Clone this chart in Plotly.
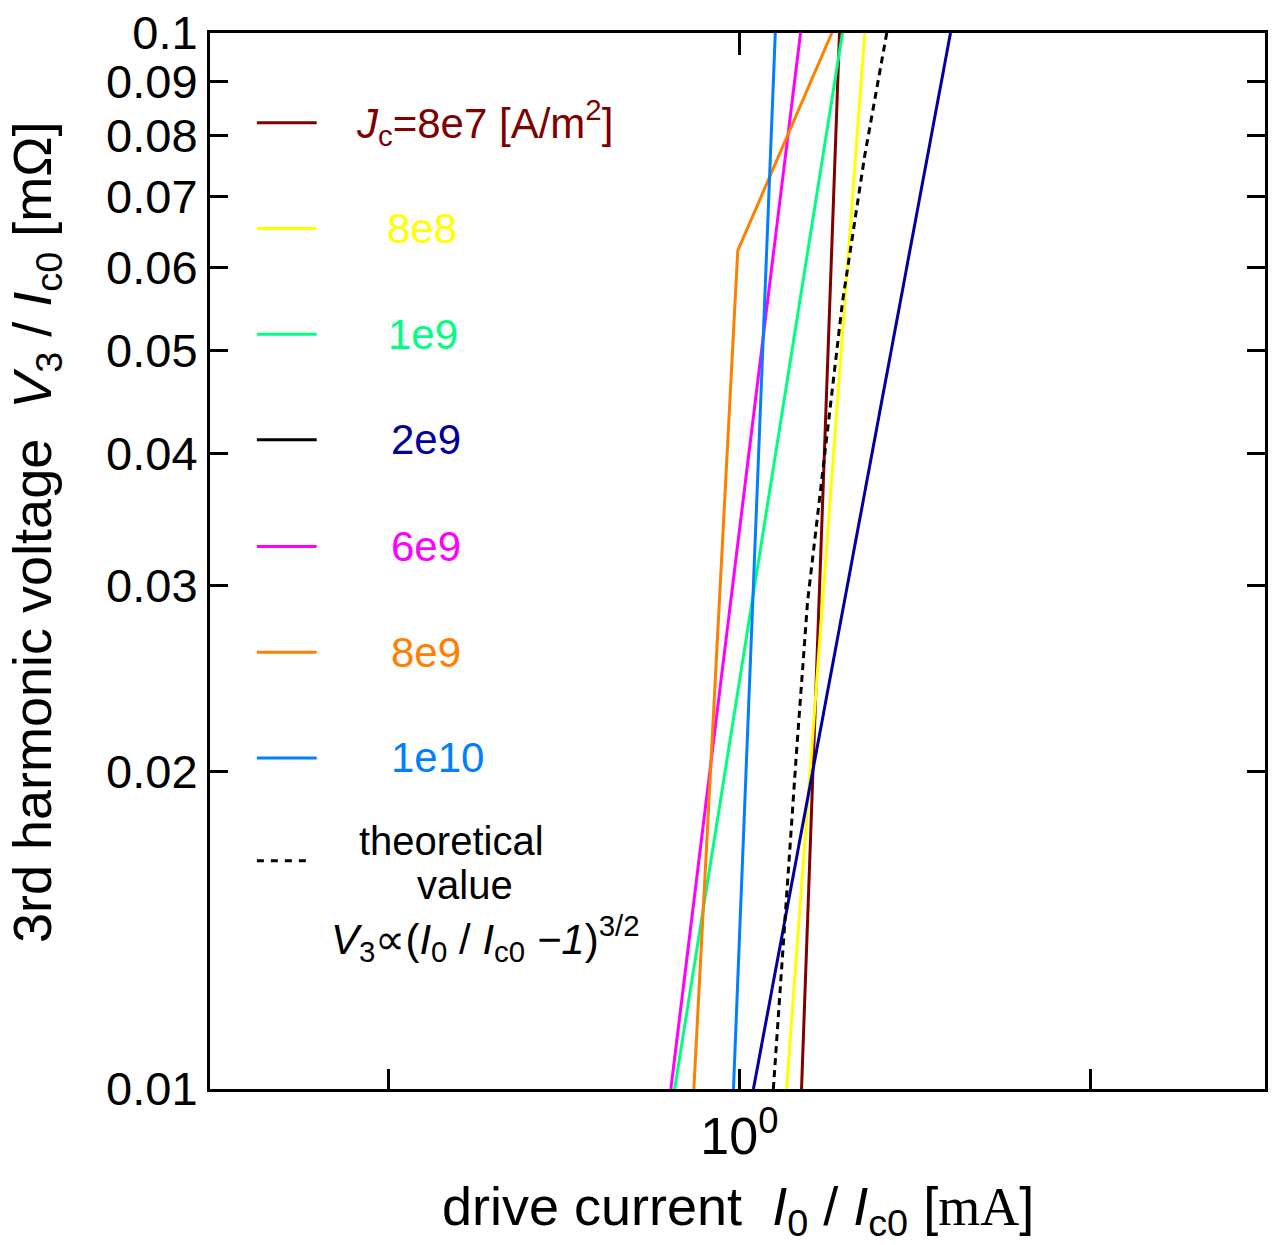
import plotly.graph_objects as go

# ---- data -------------------------------------------------------------
# drive current I0/Ic0 at the lower (0.01) and upper (0.1) end of each curve
v_ends = [0.01, 0.1]
jc_labels = ["8e7", "8e8", "1e9", "2e9", "6e9", "8e9", "1e10"]

i_8e7 = [1.1305, 1.2186]
i_8e8 = [1.0976, 1.2808]
i_1e9 = [0.8799, 1.2257]
i_2e9 = [1.0280, 1.5173]
i_6e9 = [0.8733, 1.1283]
i_8e9 = [0.9139, 0.9967, 1.2003]
v_8e9 = [0.01, 0.06221, 0.1]
i_1e10 = [0.9883, 1.0734]

# theoretical curve V3 ~ (I0/Ic0 - 1)^(3/2)
i_theory = [1.0693, 1.0963, 1.1195, 1.1441, 1.1851, 1.2257, 1.2808, 1.3378]
v_theory = [0.01, 0.01509, 0.02089, 0.02895, 0.04012, 0.05559, 0.07653, 0.1]

y_tickvals = [0.01, 0.02, 0.03, 0.04, 0.05, 0.06, 0.07, 0.08, 0.09, 0.1]
y_ticktext = ["0.01", "0.02", "0.03", "0.04", "0.05", "0.06", "0.07", "0.08", "0.09", "0.1"]
x_tickvals = [0.5, 1, 2]
x_ticktext = ["", "10<sup>0</sup>", ""]

colors = {
    "8e7": "#800000",
    "8e8": "#ffff00",
    "1e9": "#00ff80",
    "2e9": "#0000a0",
    "6e9": "#ff00ff",
    "8e9": "#ff8000",
    "1e10": "#0080ff",
}
legend_line_colors = {**colors, "2e9": "#000000"}

series = [
    ("8e7", i_8e7, v_ends),
    ("8e8", i_8e8, v_ends),
    ("1e9", i_1e9, v_ends),
    ("2e9", i_2e9, v_ends),
    ("6e9", i_6e9, v_ends),
    ("8e9", i_8e9, v_8e9),
    ("1e10", i_1e10, v_ends),
]

FONT = "Liberation Sans, Arial, sans-serif"
X_RANGE = [-0.4542, 0.4509]

fig = go.Figure()
for name, xs, ys in series:
    fig.add_trace(go.Scatter(x=xs, y=ys, mode="lines", name=name,
                             line=dict(color=colors[name], width=3),
                             showlegend=False))
fig.add_trace(go.Scatter(x=i_theory, y=v_theory, mode="lines", name="theory",
                         line=dict(color="black", width=3, dash="7px,5px"),
                         showlegend=False))
# invisible carrier for the top axis (only the 10^0 tick is marked there)
fig.add_trace(go.Scatter(x=[1], y=[0.05], xaxis="x2", mode="markers",
                         marker=dict(opacity=0), hoverinfo="skip",
                         showlegend=False))

# ---- layout -----------------------------------------------------------
W, H = 1274, 1245
L, R, T, B = 210, 6, 30, 156
PW, PH = W - L - R, H - T - B


def px(x):
    return (x - L) / PW


def py(y):
    return (H - B - y) / PH


shapes = []
annotations = []

# hand-built legend: short line sample + coloured label
legend_rows = [120, 226, 332, 438, 545, 651, 757]
legend_text_x = [354, 385, 387, 390, 390, 390, 390]
legend_texts = [
    "<i>J</i><sub>c</sub>=8e7 [A/m<sup>2</sup>]",
    "8e8", "1e9", "2e9", "6e9", "8e9", "1e10",
]
for lab, yy, tx, txt in zip(jc_labels, legend_rows, legend_text_x, legend_texts):
    shapes.append(dict(type="line", xref="paper", yref="paper",
                       x0=px(257), x1=px(317), y0=py(yy), y1=py(yy),
                       line=dict(color=legend_line_colors[lab], width=3)))
    annotations.append(dict(xref="paper", yref="paper", x=px(tx), y=py(yy),
                            xanchor="left", yanchor="middle", showarrow=False,
                            text=txt, font=dict(family=FONT, size=42, color=colors[lab])))

shapes.append(dict(type="line", xref="paper", yref="paper",
                   x0=px(257), x1=px(311), y0=py(860), y1=py(860),
                   line=dict(color="black", width=3, dash="7px,7px")))
annotations += [
    dict(xref="paper", yref="paper", x=px(452), y=py(840), xanchor="center",
         yanchor="middle", showarrow=False, text="theoretical",
         font=dict(family=FONT, size=40, color="black")),
    dict(xref="paper", yref="paper", x=px(466), y=py(884), xanchor="center",
         yanchor="middle", showarrow=False, text="value",
         font=dict(family=FONT, size=40, color="black")),
    dict(xref="paper", yref="paper", x=px(329), y=py(938), xanchor="left",
         yanchor="middle", showarrow=False,
         text="<i>V</i><sub>3</sub>\u221d(<i>I</i><sub>0</sub> / <i>I</i><sub>c0</sub> <i>\u22121</i>)<sup>3/2</sup>",
         font=dict(family=FONT, size=42, color="black")),
]

# axis titles
annotations.append(dict(
    xref="paper", yref="paper", x=px(740), y=py(1210), xanchor="center",
    yanchor="middle", showarrow=False,
    text="drive current  <i>I</i><sub>0</sub> / <i>I</i><sub>c0</sub> [<span style='font-family:Liberation Serif, Times New Roman, serif'>mA</span>]",
    font=dict(family=FONT, size=54, color="black")))
annotations.append(dict(
    xref="paper", yref="paper", x=px(35), y=py(530), xanchor="center",
    yanchor="middle", showarrow=False, textangle=-90,
    text="3rd harmonic voltage  <i>V</i><sub>3</sub> / <i>I</i><sub>c0</sub> [m\u03a9]",
    font=dict(family=FONT, size=54, color="black")))

fig.update_layout(
    width=W, height=H,
    margin=dict(l=L, r=R, t=T, b=B),
    paper_bgcolor="white", plot_bgcolor="white",
    font=dict(family=FONT, color="black"),
    shapes=shapes, annotations=annotations,
    xaxis=dict(type="log", range=X_RANGE,
               tickvals=x_tickvals, ticktext=x_ticktext,
               ticks="inside", ticklen=20, tickwidth=3, tickcolor="black",
               showline=True, linewidth=3, linecolor="black", mirror=True,
               showgrid=False, zeroline=False,
               tickfont=dict(family=FONT, size=52, color="black")),
    xaxis2=dict(type="log", range=X_RANGE, overlaying="x", side="top",
                tickvals=[1], ticks="inside", ticklen=22, tickwidth=3,
                tickcolor="black", showticklabels=False, showline=False,
                showgrid=False, zeroline=False),
    yaxis=dict(type="log", range=[-2, -1],
               tickvals=y_tickvals, ticktext=y_ticktext,
               ticks="inside", ticklen=18, tickwidth=3, tickcolor="black",
               showline=True, linewidth=3, linecolor="black", mirror="ticks",
               showgrid=False, zeroline=False,
               tickfont=dict(family=FONT, size=47, color="black")),
)

fig.write_html("out.html")
